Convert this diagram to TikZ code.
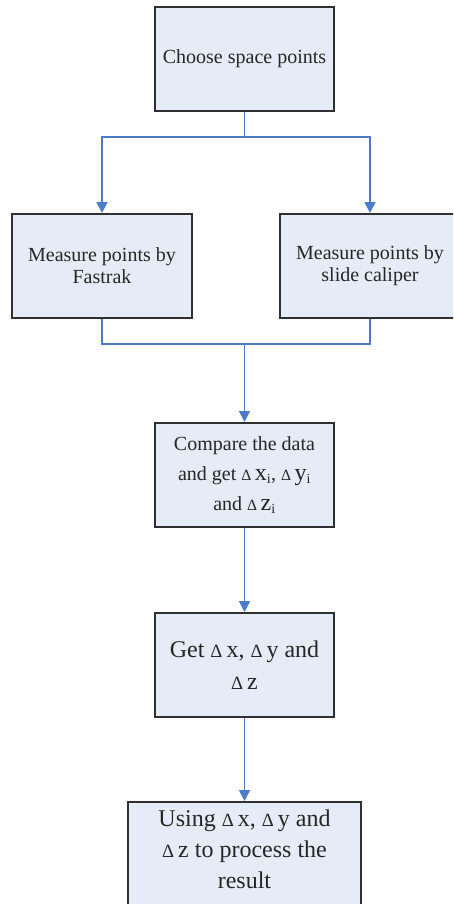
\documentclass[tikz,border=0pt]{standalone}
\usepackage{fontspec}
\setmainfont{Liberation Serif}
\usetikzlibrary{arrows.meta}
\definecolor{boxfill}{HTML}{E6ECF7}
\definecolor{boxline}{HTML}{303030}
\definecolor{connblue}{HTML}{4A7CC9}
\definecolor{txt}{HTML}{262626}
\newcommand\dlt{\scalebox{0.78}{Δ}\,}
\newcommand\bigsz{\fontsize{24}{24}\selectfont}
\tikzset{
  box/.style={draw=boxline, line width=2pt, fill=boxfill, text=txt,
    align=center, inner sep=4pt, minimum width=179pt, minimum height=104pt,
    font=\fontsize{20}{22}\selectfont},
  conn/.style={draw=connblue, line width=1.8pt},
  arr/.style={conn, -{Triangle[width=11pt,length=11pt]}}
}
\begin{document}
\begin{tikzpicture}[x=1pt,y=-1pt]
\useasboundingbox (0,0) rectangle (453,904);
\clip (0,0) rectangle (453,904);
% coordinates
\coordinate (j1) at (244.5,137);
\coordinate (j2) at (244.5,344);
% nodes
\node[box] (b1) at (244.5,59) {Choose space points};
\node[box, minimum width=180pt] (b2) at (102,266) {Measure points by\\Fastrak};
\node[box, minimum width=180pt] (b3) at (370,266) {Measure points by\\slide caliper};
\node[box, font=\fontsize{20}{30}\selectfont] (b4) at (244.5,475)
  {Compare the data\\and get \dlt{\bigsz x}\textsubscript{i}, \dlt{\bigsz y}\textsubscript{i}\\and \dlt{\bigsz z}\textsubscript{i}};
\node[box, font=\fontsize{24}{32}\selectfont] (b5) at (244.5,665) {Get \dlt x, \dlt y and\\\dlt z};
\node[box, minimum width=233pt, minimum height=110pt, font=\fontsize{24}{31}\selectfont,
  text depth=0pt] (b6) at (244.5,857) {};
\node[text=txt, align=center, font=\fontsize{24}{31}\selectfont] (t6) at (244.5,849)
  {Using \dlt x, \dlt y and\\\dlt z to process the\\result};
% connectors
\draw[conn] (b1.south) -- (j1);
\draw[arr] (j1) -| (b2.north);
\draw[arr] (j1) -| (b3.north);
\draw[conn] (b2.south) |- (j2);
\draw[conn] (b3.south) |- (j2);
\draw[arr] (j2) -- (b4.north);
\draw[arr] (b4.south) -- (b5.north);
\draw[arr] (b5.south) -- (b6.north);
\end{tikzpicture}
\end{document}
